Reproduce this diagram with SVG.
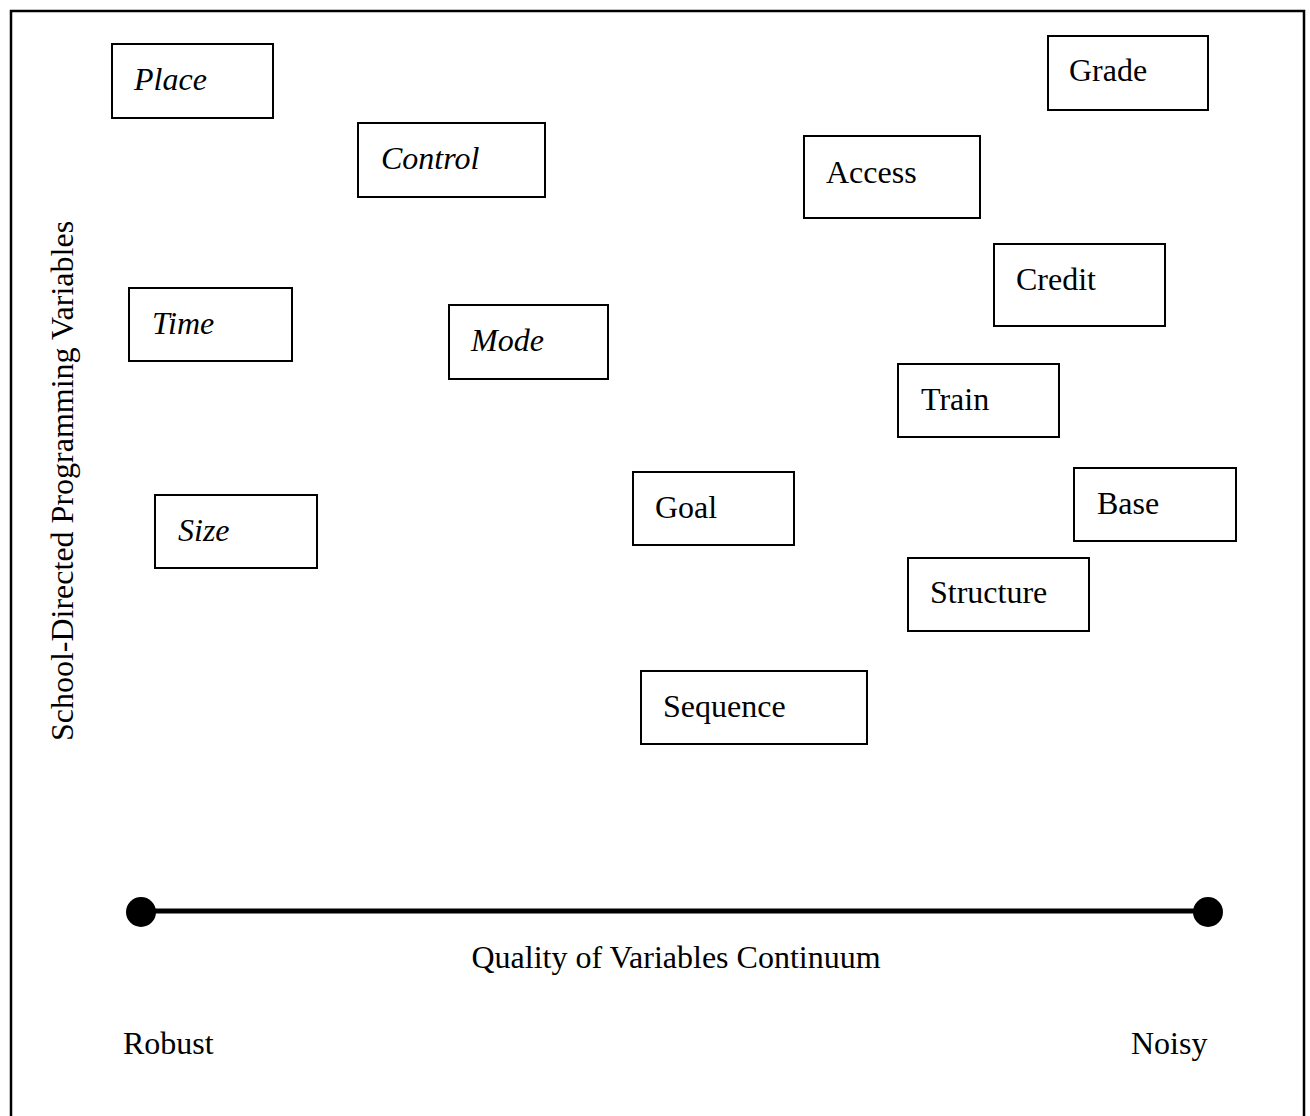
<svg xmlns="http://www.w3.org/2000/svg" width="1310" height="1116" viewBox="0 0 1310 1116">
<style>
.box{fill:#fff;stroke:#000;stroke-width:2}
.t{font-family:"Liberation Serif","Times New Roman",serif;font-size:32px;fill:#000}
.i{font-style:italic}
</style>
<rect x="0" y="0" width="1310" height="1116" fill="#fff"/>
<path d="M11,1116 V11 H1304 V1116" fill="none" stroke="#000" stroke-width="2.5"/>
<g id="place"><rect class="box" x="112" y="44" width="161" height="74"/><text class="t i" x="134" y="90">Place</text></g>
<g id="control"><rect class="box" x="358" y="123" width="187" height="74"/><text class="t i" x="381" y="169">Control</text></g>
<g id="access"><rect class="box" x="804" y="136" width="176" height="82"/><text class="t" x="826" y="183">Access</text></g>
<g id="grade"><rect class="box" x="1048" y="36" width="160" height="74"/><text class="t" x="1069" y="81">Grade</text></g>
<g id="credit"><rect class="box" x="994" y="244" width="171" height="82"/><text class="t" x="1016" y="290">Credit</text></g>
<g id="time"><rect class="box" x="129" y="288" width="163" height="73"/><text class="t i" x="152" y="334">Time</text></g>
<g id="mode"><rect class="box" x="449" y="305" width="159" height="74"/><text class="t i" x="471" y="351">Mode</text></g>
<g id="train"><rect class="box" x="898" y="364" width="161" height="73"/><text class="t" x="921" y="410">Train</text></g>
<g id="goal"><rect class="box" x="633" y="472" width="161" height="73"/><text class="t" x="655" y="518">Goal</text></g>
<g id="base"><rect class="box" x="1074" y="468" width="162" height="73"/><text class="t" x="1097" y="514">Base</text></g>
<g id="size"><rect class="box" x="155" y="495" width="162" height="73"/><text class="t i" x="178" y="541">Size</text></g>
<g id="structure"><rect class="box" x="908" y="558" width="181" height="73"/><text class="t" x="930" y="603">Structure</text></g>
<g id="sequence"><rect class="box" x="641" y="671" width="226" height="73"/><text class="t" x="663" y="717">Sequence</text></g>
<text class="t" transform="translate(73,481) rotate(-90)" text-anchor="middle">School-Directed Programming Variables</text>
<g id="connectors">
<line x1="141" y1="911" x2="1208" y2="911" stroke="#000" stroke-width="5"/>
<circle cx="141" cy="912" r="15" fill="#000"/>
<circle cx="1208" cy="912" r="15" fill="#000"/>
</g>
<text class="t" x="676" y="968" text-anchor="middle">Quality of Variables Continuum</text>
<text class="t" x="123" y="1054">Robust</text>
<text class="t" x="1131" y="1054">Noisy</text>
</svg>
